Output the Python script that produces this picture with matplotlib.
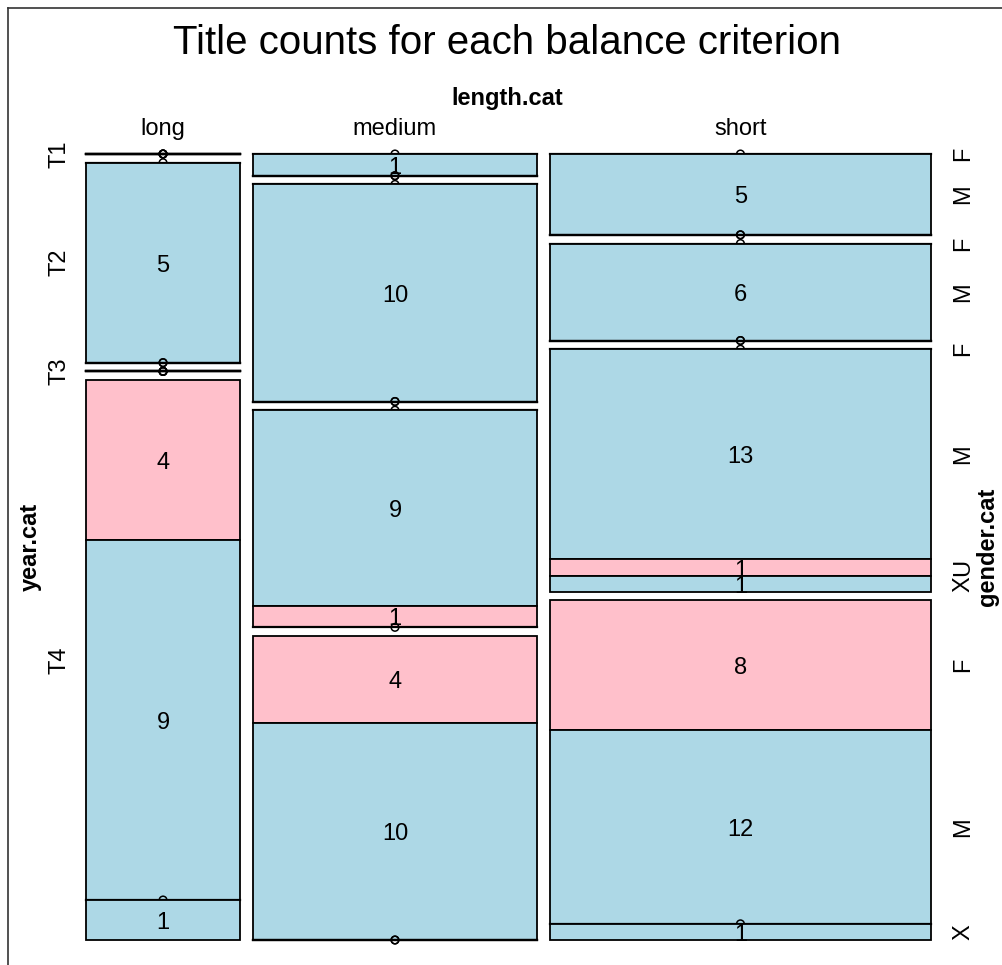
import numpy as np
import matplotlib.pyplot as plt
from matplotlib.patches import Rectangle, Circle

plt.rcParams["font.family"] = ["Liberation Sans", "DejaVu Sans"]

# mosaic data: length.cat x year.cat x gender.cat
length_levels = ["long", "medium", "short"]
year_levels = ["T1", "T2", "T3", "T4"]
gender_levels = ["F", "M", "U", "X"]
gender_colors = ["pink", "lightblue", "pink", "lightblue"]

long_counts = [[0, 0, 0, 0], [0, 5, 0, 0], [0, 0, 0, 0], [4, 9, 0, 1]]
medium_counts = [[0, 1, 0, 0], [0, 10, 0, 0], [0, 9, 1, 0], [4, 10, 0, 0]]
short_counts = [[0, 5, 0, 0], [0, 6, 0, 0], [0, 13, 1, 1], [8, 12, 0, 1]]

counts = np.array([long_counts, medium_counts, short_counts])

fig = plt.figure(figsize=(10.02, 9.65), dpi=100)
ax = fig.add_axes([0, 0, 1, 1])
ax.set_xlim(0, 1002)
ax.set_ylim(965, 0)
ax.axis("off")

# panel area (pixels) and spacing
left, right, top, bottom = 86, 931, 154, 940
col_gap, year_gap = 13, 8.7
dy = 3   # nudge so glyphs sit centred like R's text
dx = 2   # same for rotated text

col_tot = counts.sum(axis=(1, 2))
unit_w = (right - left - col_gap * (len(length_levels) - 1)) / col_tot.sum()

year_pos = []    # year centres of the first column
gender_pos = []  # gender centres of the last column
x = left
z = 2
for i, lab in enumerate(length_levels):
    w = col_tot[i] * unit_w
    unit_h = (bottom - top - year_gap * (len(year_levels) - 1)) / col_tot[i]
    y = top
    for j in range(len(year_levels)):
        y_start = y
        for k in range(len(gender_levels)):
            n = counts[i, j, k]
            h = n * unit_h
            if n == 0:
                ax.plot([x, x + w], [y, y], color="black", lw=1.6, zorder=z)
                ax.add_patch(Circle((x + w / 2, y), 3.8, fill=False,
                                    edgecolor="black", lw=1.1, zorder=z))
            else:
                ax.add_patch(Rectangle((x, y), w, h, facecolor=gender_colors[k],
                                       edgecolor="black", lw=1.3, zorder=z))
                ax.text(x + w / 2, y + h / 2 + dy, str(n), ha="center", va="center",
                        fontsize=17, zorder=z)
            if i == len(length_levels) - 1:
                gender_pos.append((gender_levels[k], y + h / 2))
            y += h
            z += 1
        if i == 0:
            year_pos.append((year_levels[j], (y_start + y) / 2))
        y += year_gap
    ax.text(x + w / 2, 126 + dy, lab, ha="center", va="center", fontsize=17)
    x += w + col_gap

for lab, yy in year_pos:
    ax.text(57 + dx, yy, lab, rotation=90, ha="center", va="center", fontsize=17)

# right labels, dropping the ones that would overlap
kept = []
for lab, yy in reversed(gender_pos):
    if all(abs(yy - k) >= 13 for k in kept):
        kept.append(yy)
        ax.text(961 + dx, yy, lab, rotation=90, ha="center", va="center", fontsize=17)

ax.text(507, 96 + dy, "length.cat", ha="center", va="center", fontsize=17, fontweight="bold")
ax.text(28 + dx, 547, "year.cat", rotation=90, ha="center", va="center",
        fontsize=17, fontweight="bold")
ax.text(986 + dx, 547, "gender.cat", rotation=90, ha="center", va="center",
        fontsize=17, fontweight="bold")
ax.text(507, 40 + 3, "Title counts for each balance criterion", ha="center", va="center",
        fontsize=29)

# partial device frame
ax.plot([8, 1002], [8, 8], color="#333333", lw=1.2)
ax.plot([8, 8], [8, 965], color="#333333", lw=1.2)

fig.savefig("out.png", dpi=100)
